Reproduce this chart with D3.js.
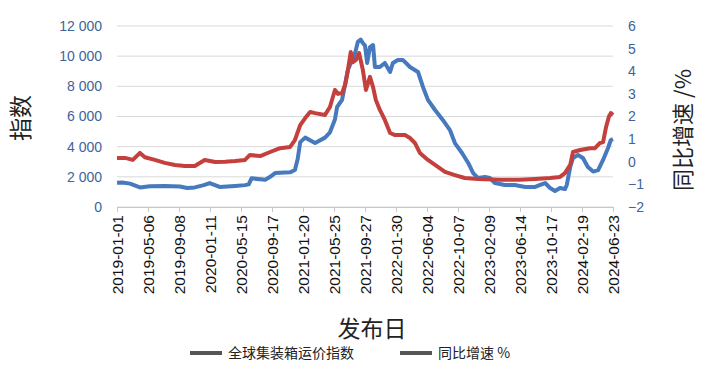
<!DOCTYPE html>
<html>
<head>
<meta charset="utf-8">
<script src="https://cdn.jsdelivr.net/npm/d3@7"></script>
<style>
  body { margin: 0; background: #fff; }
  text { font-family: "Liberation Sans", Arial, sans-serif; }
  .cjk { font-family: "Noto Sans CJK SC", sans-serif; }
</style>
</head>
<body>
<div id="chart"></div>
<script>
// category tick labels (one every ~125 days)
let dateLabels = ["2019-01-01","2019-05-06","2019-09-08","2020-01-11","2020-05-15",
  "2020-09-17","2021-01-20","2021-05-25","2021-09-27","2022-01-30","2022-06-04",
  "2022-10-07","2023-02-09","2023-06-14","2023-10-17","2024-02-19","2024-06-23"]

// x positions are in tick-interval units (0 = 2019-01-01, 16 = 2024-06-23)
let indexPos = [0,0.17,0.42,0.74,1.06,1.54,2.03,2.26,2.51,2.8,2.99,3.31,3.81,4.13,4.25,
  4.34,4.78,4.94,5.1,5.58,5.74,5.83,5.91,6.07,6.39,6.71,6.87,7.03,7.1,7.26,7.45,7.68,
  7.77,7.86,7.93,8.0,8.07,8.16,8.26,8.32,8.48,8.64,8.81,8.9,9.06,9.22,9.45,9.71,9.87,
  10.03,10.26,10.51,10.74,10.9,11.13,11.33,11.49,11.65,11.87,12.03,12.19,12.51,12.83,
  13.17,13.49,13.65,13.81,13.97,14.13,14.29,14.45,14.51,14.62,14.71,14.87,15.03,15.19,
  15.36,15.52,15.68,15.84,15.93,16]
let indexVal = [1600,1620,1550,1300,1380,1400,1360,1260,1300,1450,1590,1330,1400,1450,
  1500,1900,1800,2000,2250,2300,2450,3200,4300,4600,4250,4600,4950,5800,6630,7100,
  9100,10200,10950,11100,10870,10700,9550,10600,10740,9280,9280,9550,8950,9550,9750,
  9750,9280,8950,7960,7100,6430,5770,5100,4240,3580,2920,2250,1920,1990,1920,1590,
  1460,1460,1330,1330,1460,1590,1260,1060,1260,1190,1460,2650,3250,3450,3250,2650,
  2350,2450,3120,3910,4440,4500]

let growthPos = [0,0.26,0.51,0.74,0.9,1.22,1.54,1.87,2.19,2.51,2.83,3.17,3.49,3.81,
  4.13,4.29,4.62,4.94,5.26,5.58,5.74,5.91,6.07,6.23,6.39,6.71,6.87,7.03,7.13,7.26,7.36,
  7.45,7.54,7.61,7.71,7.81,7.93,8.03,8.16,8.26,8.35,8.48,8.64,8.81,8.97,9.29,9.45,9.61,
  9.77,10.03,10.26,10.58,10.9,11.22,11.65,12.35,12.99,13.49,13.97,14.29,14.45,14.62,
  14.71,14.94,15.26,15.42,15.58,15.68,15.77,15.87,15.93,16]
let growthVal = [0.17,0.17,0.08,0.39,0.2,0.08,-0.05,-0.14,-0.19,-0.19,0.08,-0.01,0,
  0.03,0.08,0.3,0.25,0.43,0.6,0.65,0.96,1.62,1.93,2.2,2.15,2.07,2.42,3.17,3.0,3.04,3.4,
  4.06,4.85,4.4,4.5,4.8,4.06,3.17,3.75,3.3,2.73,2.29,1.85,1.27,1.18,1.18,1.05,0.83,
  0.39,0.08,-0.14,-0.45,-0.59,-0.72,-0.76,-0.8,-0.8,-0.76,-0.72,-0.67,-0.5,-0.14,0.43,
  0.52,0.6,0.6,0.83,0.87,1.5,2.0,2.15,2.07]

let leftTicks = [0,2000,4000,6000,8000,10000,12000]
let rightTicks = [-2,-1,0,1,2,3,4,5,6]
let seriesNames = ["全球集装箱运价指数", "同比增速 %"]

window.onload = function (){ setup() }

function setup(){
  let width = 710, height = 372
  let left = 117, right = 613, top = 26, bottom = 207

  let svg = d3.select("#chart").append("svg")
    .attr("width", width)
    .attr("height", height)

  let x = d3.scaleLinear().domain([0, dateLabels.length - 1]).range([left, right])
  let yL = d3.scaleLinear().domain([0, 12000]).range([bottom, top])
  let yR = d3.scaleLinear().domain([-2, 6]).range([bottom, top])

  let fmt = d3.formatLocale({decimal: ".", thousands: " ", grouping: [3], currency: ["", ""]}).format(",")

  // gridlines
  svg.append("g").selectAll("line")
    .data(leftTicks)
    .join("line")
    .attr("x1", left).attr("x2", right)
    .attr("y1", d => yL(d)).attr("y2", d => yL(d))
    .attr("stroke", "#d9d9d9")
    .attr("stroke-width", 1)

  // left axis
  let gl = svg.append("g")
    .attr("transform", `translate(${left},0)`)
    .call(d3.axisLeft(yL).tickValues(leftTicks).tickSize(0).tickPadding(15).tickFormat(fmt))
  gl.select(".domain").remove()
  gl.selectAll("text").attr("fill", "#40639a").style("font-size", "14px")

  // right axis
  let gr = svg.append("g")
    .attr("transform", `translate(${right},0)`)
    .call(d3.axisRight(yR).tickValues(rightTicks).tickSize(0).tickPadding(15))
  gr.select(".domain").remove()
  gr.selectAll("text").attr("fill", "#40639a").style("font-size", "14px")

  // bottom axis
  let gb = svg.append("g")
    .attr("transform", `translate(0,${bottom})`)
    .call(d3.axisBottom(x).tickValues(d3.range(dateLabels.length)).tickSize(5).tickFormat(i => dateLabels[i]))
  gb.select(".domain").attr("stroke", "#c8c8c8")
  gb.selectAll(".tick line").attr("stroke", "#c8c8c8")
  gb.selectAll("text")
    .attr("transform", "rotate(-90)")
    .attr("x", -8)
    .attr("y", 0)
    .attr("dy", "0.35em")
    .style("text-anchor", "end")
    .style("font-size", "15.5px")
    .attr("fill", "#111")

  // lines
  let indexLine = d3.line()
    .x((d, i) => x(indexPos[i]))
    .y(d => yL(d))
  let growthLine = d3.line()
    .x((d, i) => x(growthPos[i]))
    .y(d => yR(d))

  svg.append("path")
    .datum(indexVal)
    .attr("d", indexLine)
    .attr("fill", "none")
    .attr("stroke", "#4679bd")
    .attr("stroke-width", 4)
    .attr("stroke-linejoin", "round")

  svg.append("path")
    .datum(growthVal)
    .attr("d", growthLine)
    .attr("fill", "none")
    .attr("stroke", "#c4403d")
    .attr("stroke-width", 4)
    .attr("stroke-linejoin", "round")

  // axis titles
  svg.append("text")
    .attr("class", "cjk")
    .attr("transform", "translate(21,118) rotate(-90)")
    .attr("text-anchor", "middle")
    .attr("dy", "0.35em")
    .style("font-size", "23px")
    .attr("fill", "#222")
    .text("指数")

  svg.append("text")
    .attr("class", "cjk")
    .attr("transform", "translate(683,130) rotate(-90)")
    .attr("text-anchor", "middle")
    .attr("dy", "0.35em")
    .style("font-size", "22px")
    .attr("fill", "#222")
    .text("同比增速 /%")

  svg.append("text")
    .attr("class", "cjk")
    .attr("x", 372)
    .attr("y", 337)
    .attr("text-anchor", "middle")
    .style("font-size", "23px")
    .attr("fill", "#222")
    .text("发布日")

  // legend
  let legendX = [190, 400]
  let lg = svg.append("g").selectAll("g")
    .data(seriesNames)
    .join("g")
    .attr("transform", (d, i) => `translate(${legendX[i]},353)`)
  lg.append("line")
    .attr("x1", 0).attr("x2", 32)
    .attr("stroke", "#555")
    .attr("stroke-width", 4)
  lg.append("text")
    .attr("class", "cjk")
    .attr("x", 38)
    .attr("dy", "0.35em")
    .style("font-size", "14px")
    .attr("fill", "#222")
    .text(d => d)
}
</script>
</body>
</html>
